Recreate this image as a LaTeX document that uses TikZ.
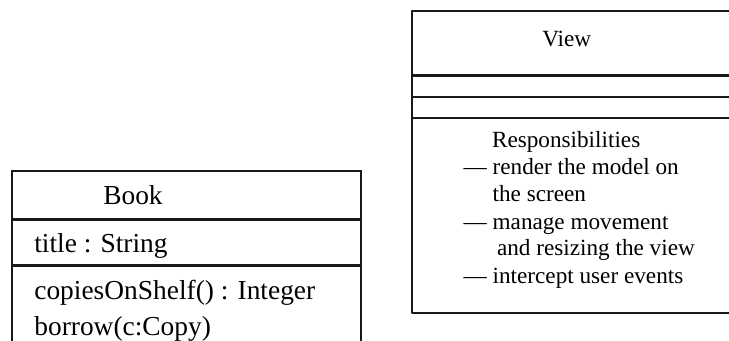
\documentclass[tikz,border=0pt]{standalone}
\usepackage{fontspec}
\setmainfont{Liberation Serif}
\usepackage{tikz}
\usepackage{tkz-euclide}

\tikzset{
  umlline/.style={line width=1.3pt,color=black!90},
  booktext/.style={inner sep=0pt,font=\fontsize{15.6}{18}\selectfont},
  viewtext/.style={inner sep=0pt,font=\fontsize{13.2}{16}\selectfont},
}

\begin{document}
\begin{tikzpicture}[scale=1.0]
  \useasboundingbox (0,0) rectangle (14.58,6.82);
  \clip (0,0) rectangle (14.58,6.82);

  % class Book, its lower edge runs off the page
  \tkzDefPoints{0.24/-0.1/B0,0.24/3.40/B1,7.22/3.40/B2,7.22/-0.1/B3}
  \tkzDefPoints{0.24/2.43/Ba,7.22/2.43/Bb,0.24/1.51/Bc,7.22/1.51/Bd}
  \tkzDrawPolySeg[umlline](B0,B1,B2,B3)
  \tkzDrawSegments[umlline](Ba,Bb Bc,Bd)

  \tkzDefPoints{2.66/2.72/tBook,0.68/1.774/tAttr,0.68/0.82/tOpA,0.68/0.106/tOpB}
  \node[booktext,anchor=base] (book) at (tBook) {Book};
  \node[booktext,anchor=base west] (bookattr) at (tAttr) {title : String};
  \node[booktext,anchor=base west] (bookopa) at (tOpA) {copiesOnShelf() : Integer};
  \node[booktext,anchor=base west] (bookopb) at (tOpB) {borrow(c:Copy)};

  % class View, right side cut by the page
  \tkzDefPoints{8.24/0.56/V0,8.24/6.60/V1,14.70/6.60/V2,14.70/0.56/V3}
  \tkzDefPoints{8.24/5.31/Va,14.70/5.31/Vb,8.24/4.88/Vc,14.70/4.88/Vd,8.24/4.46/Ve,14.70/4.46/Vf}
  \tkzDrawPolygon[umlline](V0,V1,V2,V3)
  \tkzDrawSegments[umlline](Va,Vb Vc,Vd Ve,Vf)

  \tkzDefPoints{11.334/5.886/tView,9.834/3.874/tResp}
  \tkzDefPoints{9.266/3.33/tR1,9.846/2.786/tR1b,9.266/2.22/tR2,9.934/1.70/tR2b,9.266/1.154/tR3}
  \node[viewtext,anchor=base] (view) at (tView) {View};
  \node[viewtext,anchor=base west] (resp) at (tResp) {Responsibilities};
  \node[viewtext,anchor=base west] (respa) at (tR1) {\textemdash\ render the model on};
  \node[viewtext,anchor=base west] (respb) at (tR1b) {the screen};
  \node[viewtext,anchor=base west] (respc) at (tR2) {\textemdash\ manage movement};
  \node[viewtext,anchor=base west] (respd) at (tR2b) {and resizing the view};
  \node[viewtext,anchor=base west] (respe) at (tR3) {\textemdash\ intercept user events};

  % \tkzLabelPoint[below](V0){$V_0$}
\end{tikzpicture}
\end{document}
